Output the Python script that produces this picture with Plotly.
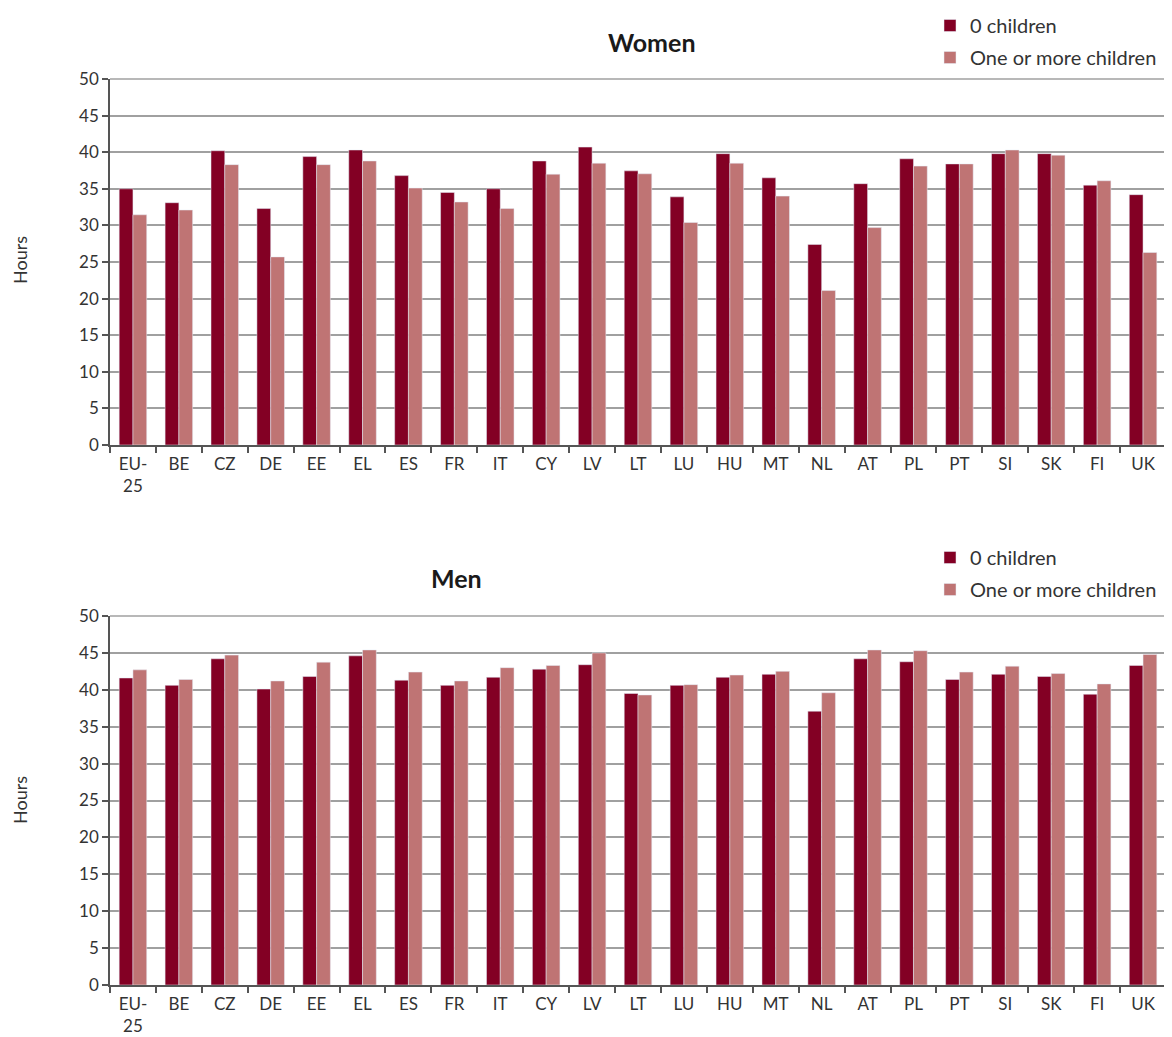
import plotly.graph_objects as go

countries = ["EU-25", "BE", "CZ", "DE", "EE", "EL", "ES", "FR", "IT", "CY", "LV", "LT",
             "LU", "HU", "MT", "NL", "AT", "PL", "PT", "SI", "SK", "FI", "UK"]
tick_labels = ["EU-<br>25", "BE", "CZ", "DE", "EE", "EL", "ES", "FR", "IT", "CY", "LV", "LT",
               "LU", "HU", "MT", "NL", "AT", "PL", "PT", "SI", "SK", "FI", "UK"]

women_no_children = [35.0, 33.1, 40.2, 32.3, 39.4, 40.3, 36.8, 34.5, 35.0, 38.8, 40.7, 37.45,
                     33.9, 39.8, 36.5, 27.4, 35.7, 39.1, 38.4, 39.8, 39.8, 35.5, 34.2]
women_children = [31.45, 32.1, 38.3, 25.7, 38.3, 38.8, 35.1, 33.2, 32.3, 37.0, 38.5, 37.05,
                  30.4, 38.5, 34.0, 21.1, 29.7, 38.1, 38.4, 40.3, 39.6, 36.1, 26.3]
men_no_children = [41.6, 40.6, 44.2, 40.1, 41.8, 44.6, 41.3, 40.6, 41.7, 42.8, 43.4, 39.5,
                   40.6, 41.7, 42.1, 37.1, 44.2, 43.8, 41.4, 42.1, 41.8, 39.4, 43.3]
men_children = [42.7, 41.4, 44.7, 41.2, 43.75, 45.4, 42.4, 41.2, 43.0, 43.3, 45.0, 39.3,
                40.7, 42.0, 42.5, 39.6, 45.4, 45.3, 42.4, 43.2, 42.2, 40.8, 44.8]

series_names = ["0 children", "One or more children"]
y_ticks = [0, 5, 10, 15, 20, 25, 30, 35, 40, 45, 50]

DARK = "#830024"
LIGHT = "#BF7474"
FONT = "Lato, 'Open Sans', sans-serif"
TXT = "#333333"

# page body has an 8px margin; size and place the figure so it fits the window
OFF = 8
W = 1172.0 - OFF
H = 1037.0 - OFF

def px(xp):
    return (xp - OFF) / W

def py(yp):
    return 1 - (yp - OFF) / H

def ydom(top_px, bottom_px):
    return [py(bottom_px), py(top_px)]

fig = go.Figure()
fig.add_trace(go.Bar(x=countries, y=women_no_children, name=series_names[0], marker_color=DARK,
                     xaxis="x", yaxis="y", legend="legend", legendgroup="a"))
fig.add_trace(go.Bar(x=countries, y=women_children, name=series_names[1], marker_color=LIGHT,
                     xaxis="x", yaxis="y", legend="legend", legendgroup="b"))
fig.add_trace(go.Bar(x=countries, y=men_no_children, name=series_names[0], marker_color=DARK,
                     xaxis="x2", yaxis="y2", legend="legend2", legendgroup="c"))
fig.add_trace(go.Bar(x=countries, y=men_children, name=series_names[1], marker_color=LIGHT,
                     xaxis="x2", yaxis="y2", legend="legend2", legendgroup="d"))

xcommon = dict(
    type="category", categoryorder="array", categoryarray=countries,
    tickmode="array", tickvals=countries, ticktext=tick_labels,
    ticks="outside", tickson="boundaries", ticklen=6, tickcolor="#555555", tickwidth=1.5,
    showline=True, linecolor="#555555", linewidth=1.5, mirror=False,
    showgrid=False, tickfont=dict(family=FONT, size=17, color=TXT), automargin=False,
    ticklabelstandoff=3,
)
ycommon = dict(
    range=[0, 50], tickvals=y_ticks, ticks="outside", ticklen=6, tickcolor="#555555", tickwidth=1.5,
    showline=True, linecolor="#555555", linewidth=1.5,
    showgrid=True, gridcolor="#a0a0a0", gridwidth=1.5,
    tickfont=dict(family=FONT, size=17, color=TXT), zeroline=False, automargin=False,
)

legend_common = dict(xanchor="left", yanchor="top", orientation="v",
                     font=dict(family=FONT, size=20, color=TXT), bgcolor="rgba(0,0,0,0)",
                     tracegroupgap=3, itemwidth=30)

fig.update_layout(
    width=int(W), height=int(H),
    margin=dict(l=0, r=0, t=0, b=0, autoexpand=False),
    paper_bgcolor="white", plot_bgcolor="white",
    barmode="group", bargap=0.4, bargroupgap=0,
    font=dict(family=FONT, color=TXT),
    xaxis=dict(domain=[px(110), px(1166)], anchor="y", **xcommon),
    yaxis=dict(domain=ydom(79, 445), anchor="x", **ycommon),
    xaxis2=dict(domain=[px(110), px(1166)], anchor="y2", **xcommon),
    yaxis2=dict(domain=ydom(616, 985), anchor="x2", **ycommon),
    legend=dict(x=px(930), y=py(6), **legend_common),
    legend2=dict(x=px(930), y=py(538), **legend_common),
    shapes=[
        dict(type="line", xref="x domain", yref="y domain", x0=0, x1=1, y0=1, y1=1,
             line=dict(color="#a0a0a0", width=1.5)),
        dict(type="line", xref="x domain", yref="y domain", x0=1, x1=1, y0=0, y1=1,
             line=dict(color="#a0a0a0", width=1.5)),
        dict(type="line", xref="x2 domain", yref="y2 domain", x0=0, x1=1, y0=1, y1=1,
             line=dict(color="#a0a0a0", width=1.5)),
        dict(type="line", xref="x2 domain", yref="y2 domain", x0=1, x1=1, y0=0, y1=1,
             line=dict(color="#a0a0a0", width=1.5)),
    ],
    annotations=[
        dict(text="<b>Women</b>", x=px(652), y=py(42), xref="paper", yref="paper",
             xanchor="center", yanchor="middle",
             showarrow=False, font=dict(family=FONT, size=25, color="#1a1a1a")),
        dict(text="<b>Men</b>", x=px(456), y=py(578), xref="paper", yref="paper",
             xanchor="center", yanchor="middle",
             showarrow=False, font=dict(family=FONT, size=25, color="#1a1a1a")),
        dict(text="Hours", x=px(20), y=py(260), xref="paper", yref="paper", textangle=-90,
             xanchor="center", yanchor="middle",
             showarrow=False, font=dict(family=FONT, size=18, color=TXT)),
        dict(text="Hours", x=px(20), y=py(800), xref="paper", yref="paper", textangle=-90,
             xanchor="center", yanchor="middle",
             showarrow=False, font=dict(family=FONT, size=18, color=TXT)),
    ],
)

fig.write_html("out.html")
